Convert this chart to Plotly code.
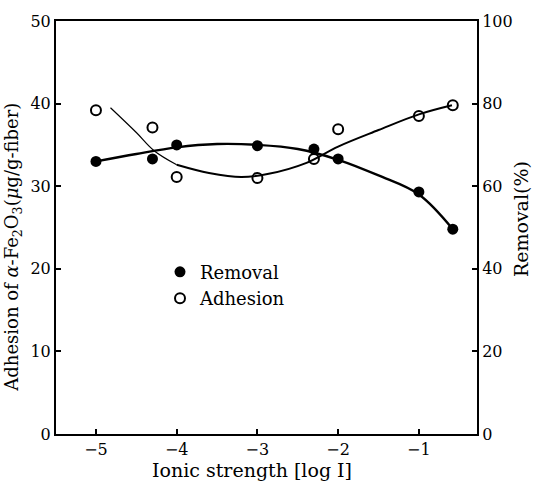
import plotly.graph_objects as go

# ---- data ----
log_i = [-5.0, -4.3, -4.0, -3.0, -2.3, -2.0, -1.0, -0.58]
removal_pct = [66.0, 66.6, 70.0, 69.8, 69.0, 66.6, 58.6, 49.6]      # right axis (%)
adhesion = [39.2, 37.1, 31.1, 31.0, 33.3, 36.9, 38.5, 39.8]         # left axis (ug/g-fiber)

# fitted curves
rem_curve_x = [-5.0, -4.5, -4.0, -3.5, -3.0, -2.5, -2.0, -1.5, -1.0, -0.58]
rem_curve_y = [66.0, 67.8, 69.4, 70.2, 70.0, 69.0, 66.4, 62.6, 58.0, 49.6]
adh_curve_x = [-4.82, -4.5, -4.28, -4.0, -3.6, -3.2, -2.86, -2.4, -2.0, -1.5, -1.0, -0.59]
adh_curve_y = [39.5, 36.5, 34.3, 32.6, 31.6, 31.1, 31.5, 32.8, 34.8, 36.8, 38.7, 39.8]

x_ticks = [-5, -4, -3, -2, -1]
left_ticks = [0, 10, 20, 30, 40, 50]
right_ticks = [0, 20, 40, 60, 80, 100]

FONT = "DejaVu Serif"
W, H = 534, 487
L, R, T, B = 56, 57, 15, 53
pw, ph = W - L - R, H - T - B

fig = go.Figure()

fig.add_trace(go.Scatter(x=adh_curve_x[:4], y=adh_curve_y[:4], mode="lines",
                         line=dict(color="black", width=1.2, shape="spline"),
                         showlegend=False, hoverinfo="skip"))
fig.add_trace(go.Scatter(x=adh_curve_x[3:], y=adh_curve_y[3:], mode="lines",
                         line=dict(color="black", width=2.0, shape="spline"),
                         showlegend=False, hoverinfo="skip"))
fig.add_trace(go.Scatter(x=rem_curve_x, y=rem_curve_y, mode="lines", yaxis="y2",
                         line=dict(color="black", width=2.4, shape="spline"),
                         showlegend=False, hoverinfo="skip"))

fig.add_trace(go.Scatter(x=log_i, y=removal_pct, mode="markers", yaxis="y2", name="Removal",
                         marker=dict(symbol="circle", size=11, color="black")))
fig.add_trace(go.Scatter(x=log_i, y=adhesion, mode="markers", name="Adhesion",
                         marker=dict(symbol="circle-open", size=10, color="black",
                                     line=dict(width=2, color="black"))))

axis_common = dict(showline=True, linecolor="black", linewidth=2, ticks="inside",
                   ticklen=5, tickwidth=1.5, tickcolor="black", showgrid=False,
                   zeroline=False, tickfont=dict(family=FONT, size=16, color="black"))

fig.update_layout(
    width=W, height=H,
    margin=dict(l=L, r=R, t=T, b=B, pad=0),
    paper_bgcolor="white", plot_bgcolor="white",
    font=dict(family=FONT, color="black"),
    xaxis=dict(range=[-5.495, -0.28], tickvals=x_ticks, mirror=True, **axis_common),
    yaxis=dict(range=[0, 50], tickvals=left_ticks, **axis_common),
    yaxis2=dict(range=[0, 100], tickvals=right_ticks, overlaying="y", side="right",
                **axis_common),
    legend=dict(x=(160 - L) / pw, y=(T + ph - 251) / ph, xanchor="left", yanchor="top",
                bgcolor="rgba(0,0,0,0)", font=dict(family=FONT, size=18, color="black"),
                tracegroupgap=0),
    annotations=[
        dict(text="Adhesion of <i>α</i>-Fe<sub>2</sub>O<sub>3</sub>(<i>μ</i>g/g-fiber)",
             xref="paper", yref="paper", x=(13 - L) / pw, y=(T + ph - 245) / ph,
             xanchor="center", yanchor="middle", textangle=-90, showarrow=False,
             font=dict(family=FONT, size=18, color="black")),
        dict(text="Removal(%)",
             xref="paper", yref="paper", x=(521 - L) / pw, y=(T + ph - 216) / ph,
             xanchor="center", yanchor="middle", textangle=-90, showarrow=False,
             font=dict(family=FONT, size=19, color="black")),
        dict(text="Ionic strength [log I]",
             xref="paper", yref="paper", x=(252 - L) / pw, y=(T + ph - 471) / ph,
             xanchor="center", yanchor="middle", showarrow=False,
             font=dict(family=FONT, size=19, color="black")),
    ],
)

fig.write_html("out.html")
